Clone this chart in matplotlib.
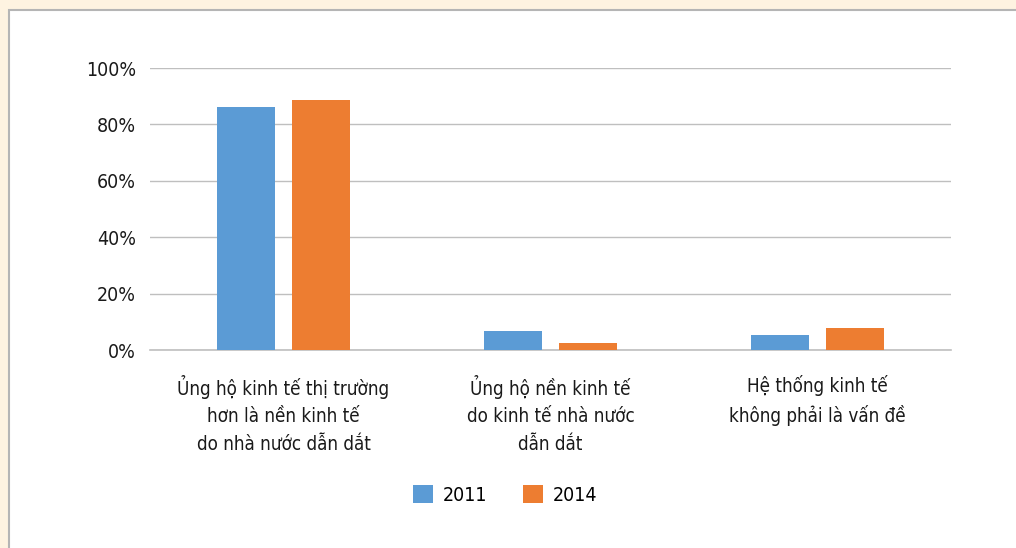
import numpy as np
import matplotlib.pyplot as plt
from matplotlib.patches import Rectangle

plt.rcParams['font.family'] = ['DejaVu Sans']
plt.rcParams['font.stretch'] = 'condensed'

categories = ["Ủng hộ kinh tế thị trường\nhơn là nền kinh tế\ndo nhà nước dẫn dắt",
              "Ủng hộ nền kinh tế\ndo kinh tế nhà nước\ndẫn dắt",
              "Hệ thống kinh tế\nkhông phải là vấn đề"]
years = ["2011", "2014"]
vals_2011 = [86.2, 6.7, 5.3]
vals_2014 = [88.7, 2.5, 7.8]
yticks = [0, 20, 40, 60, 80, 100]

blue, orange = "#5B9BD5", "#ED7D31"

W, H = 1016, 548
fig = plt.figure(figsize=(W / 100, H / 100), dpi=100, facecolor="#FEF3E1")
# white panel with grey border (runs off the right and bottom edges)
fig.patches.append(Rectangle((9 / W, -0.1), 1.2, 1.1 - 10 / H, transform=fig.transFigure,
                             facecolor="white", edgecolor="#B5B5B5", linewidth=1.5,
                             zorder=-1))

ax = fig.add_axes([150 / W, 1 - 350 / H, 801 / W, 282 / H])
ax.set_facecolor("none")
x = np.arange(len(categories))
w, off = 0.217, 0.142
ax.bar(x - off, vals_2011, width=w, color=blue, label=years[0], zorder=3)
ax.bar(x + off, vals_2014, width=w, color=orange, label=years[1], zorder=3)

ax.set_xlim(-0.5, 2.5)
ax.set_ylim(0, 100)
ax.set_yticks(yticks)
ax.set_yticklabels([f"{t}%" for t in yticks], fontsize=14)
ax.set_xticks(x)
ax.set_xticklabels(categories, linespacing=1.55, fontsize=13.5)
ax.tick_params(axis="both", length=0, colors="#1a1a1a")
ax.tick_params(axis="x", pad=18)
ax.tick_params(axis="y", pad=10)
ax.grid(axis="y", color="#BFBFBF", linewidth=1, zorder=0)
for s in ["top", "right", "left"]:
    ax.spines[s].set_visible(False)
ax.spines["bottom"].set_color("#BFBFBF")
ax.spines["bottom"].set_linewidth(1.2)

ax.legend(loc="center", bbox_to_anchor=(505 / W, 1 - 495 / H),
          bbox_transform=fig.transFigure, ncol=2, frameon=False,
          fontsize=14, handlelength=1.03, handleheight=1.03,
          columnspacing=1.8, handletextpad=0.5)

fig.savefig("out.png", dpi=100, facecolor=fig.get_facecolor())
